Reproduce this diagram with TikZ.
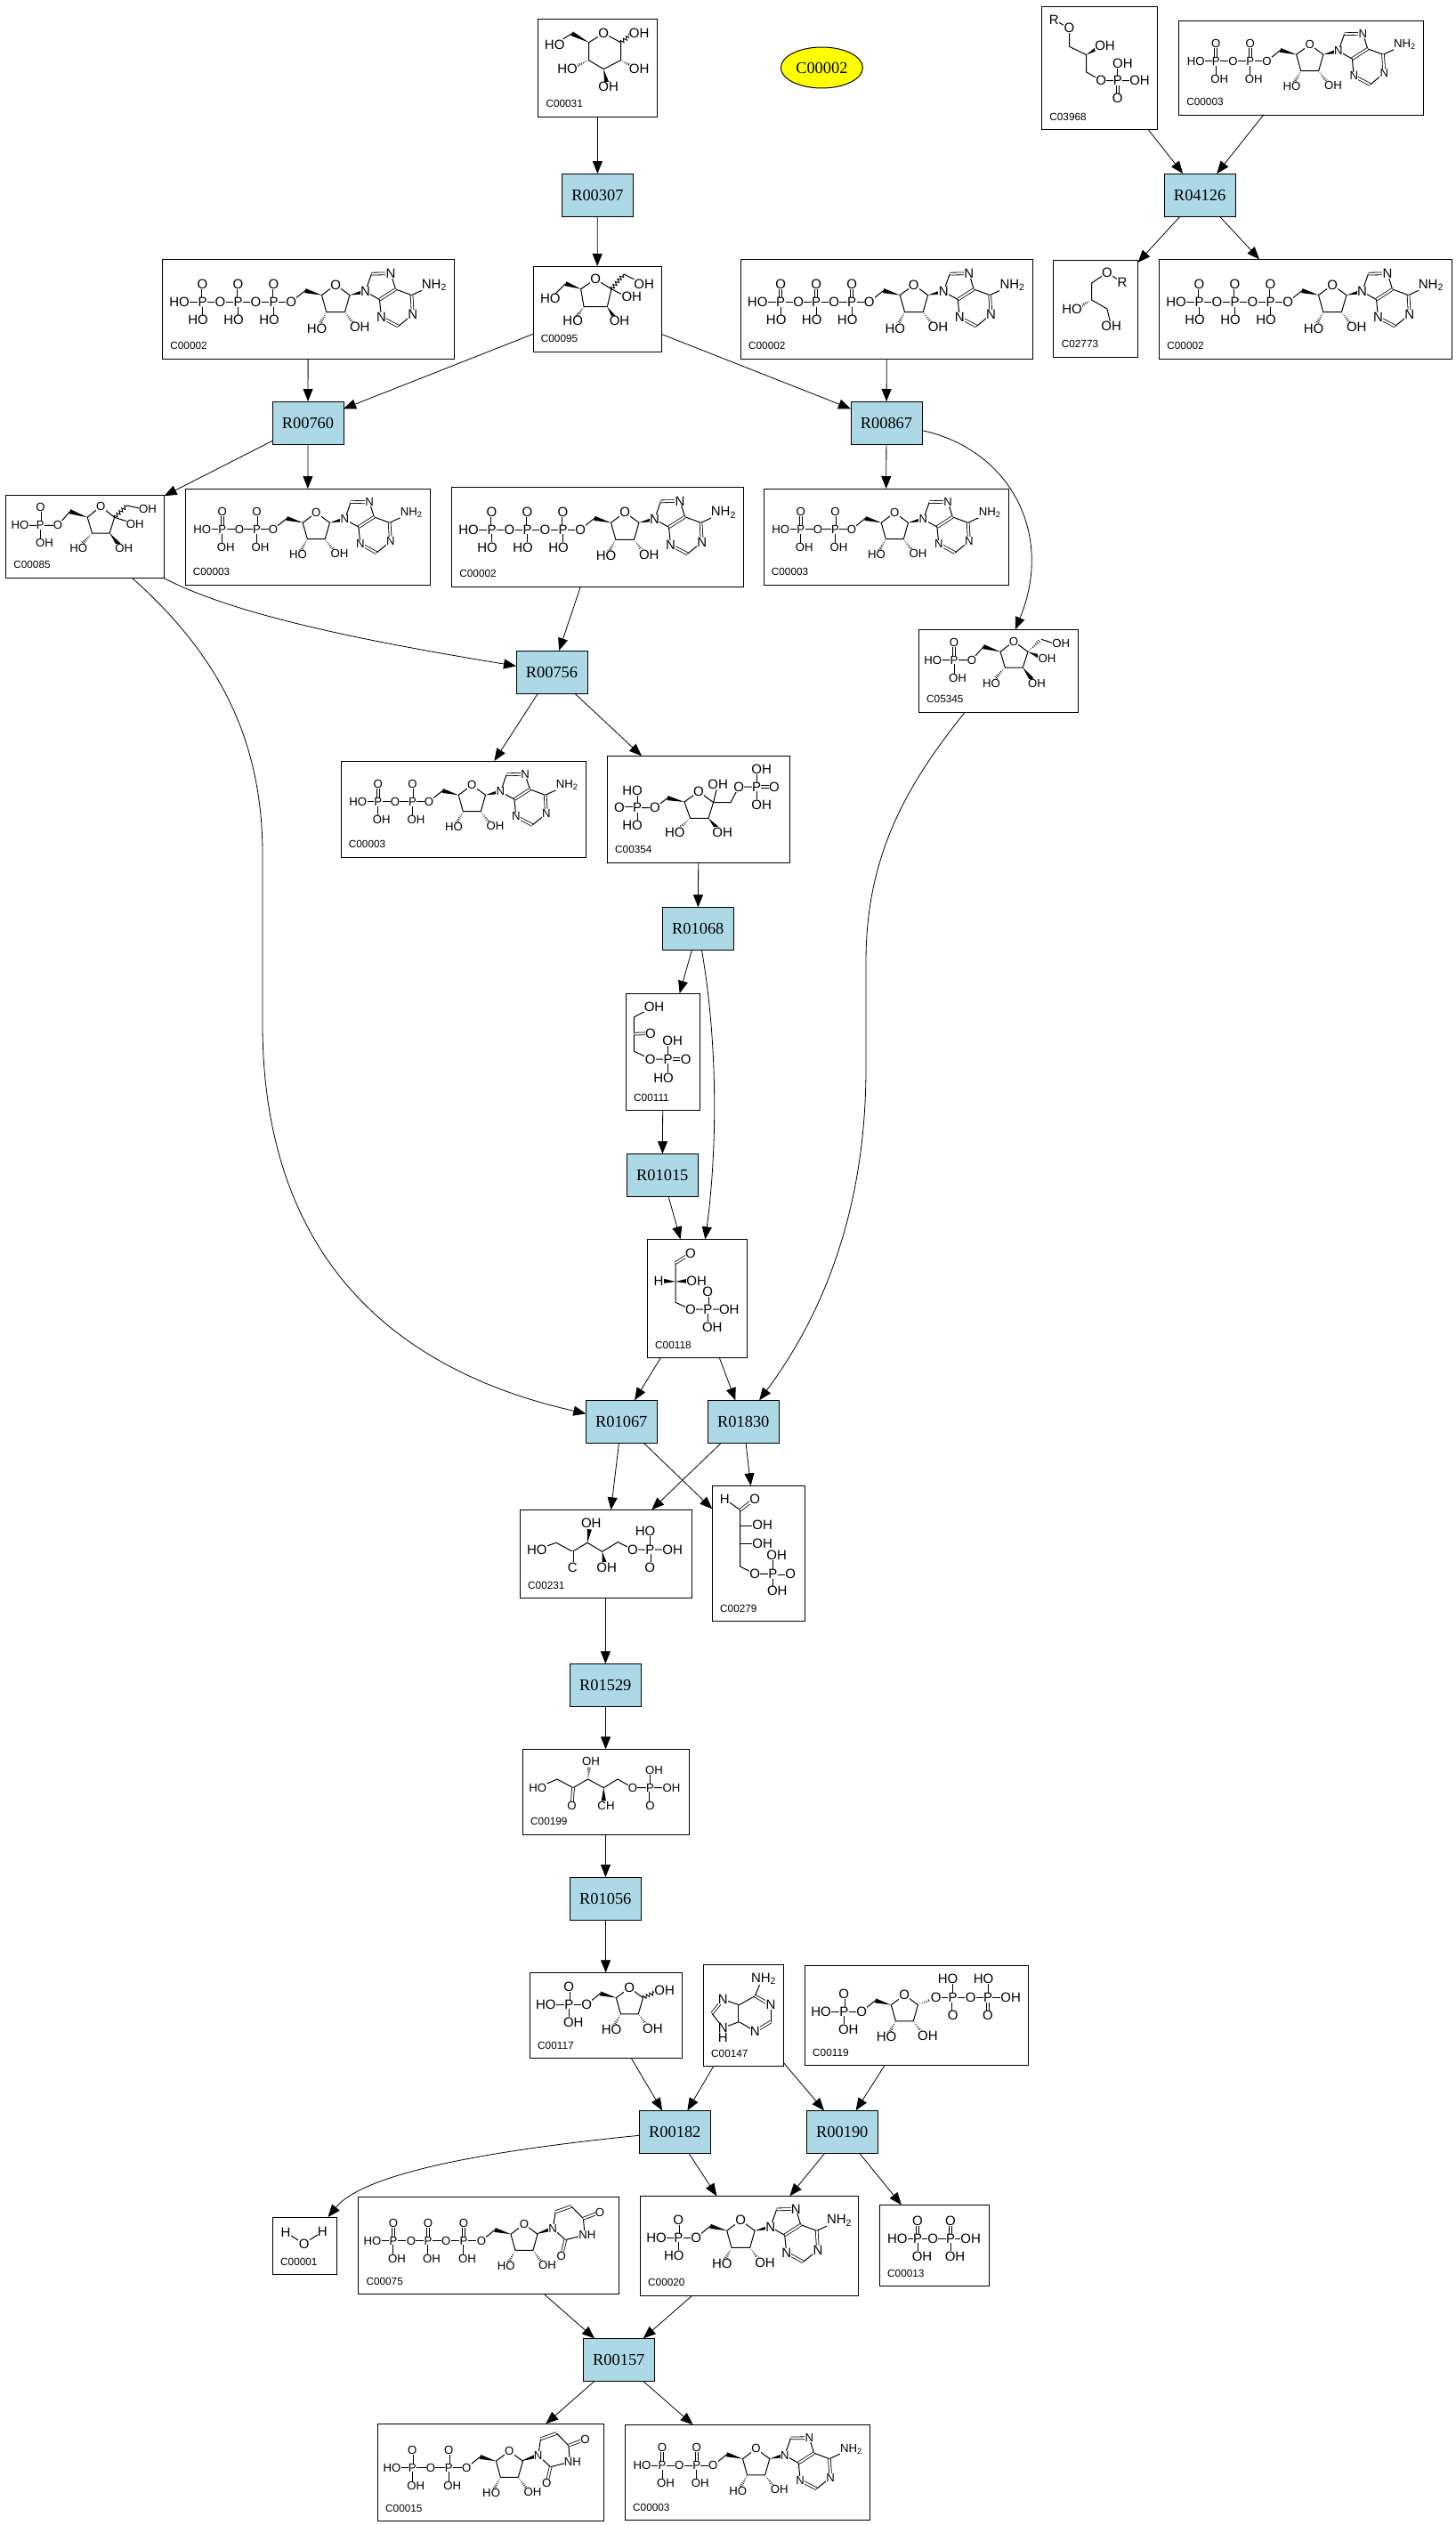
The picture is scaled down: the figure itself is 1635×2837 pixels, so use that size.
\documentclass[tikz,border=0pt]{standalone}
\usepackage{fontspec}
\setmainfont{Liberation Sans}
\newfontfamily\rxnfont{Liberation Serif}
\usetikzlibrary{arrows.meta,calc,shapes.geometric,decorations.pathmorphing}
\definecolor{rxnblue}{RGB}{173,216,230}
\definecolor{cpdyellow}{RGB}{255,255,0}
\newcounter{atomc}
\def\atomsz{7.5}
\tikzset{
 cpdbox/.style={draw=black,line width=.5pt,fill=white,inner sep=0pt,outer sep=0pt,rectangle},
 rxnbox/.style={draw=black,line width=.5pt,fill=rxnblue,inner sep=0pt,outer sep=0pt,rectangle,font=\rxnfont\fontsize{9.2}{10}\selectfont},
 cpdoval/.style={draw=black,line width=.5pt,fill=cpdyellow,inner sep=0pt,outer sep=0pt,ellipse,font=\rxnfont\fontsize{9.2}{10}\selectfont},
 cpdlabel/.style={anchor=west,inner sep=0pt,font=\fontsize{5.9}{7}\selectfont},
 atom/.style={inner sep=.15pt,fill=white,font=\fontsize{\atomsz}{8}\selectfont},
 bond/.style={line width=.5pt,black},
 dblbond/.style={double,double distance=1pt,line width=.4pt},
 wavybond/.style={line width=.45pt,decorate,decoration={zigzag,segment length=2pt,amplitude=1pt}},
 edge/.style={draw=black,line width=.4pt,-{Triangle[length=7pt,width=5.5pt]}}
}
\newcommand\atm[3]{\stepcounter{atomc}\node[atom] (atom\arabic{atomc}) at (#1,#2) {#3};}
\newcommand\dbl[2]{\draw[dblbond] (#1) -- (#2);}
\newcommand\wdg[2]{\fill[black] (#1) -- ($(#2)!1.3pt!90:(#1)$) -- ($(#2)!1.3pt!-90:(#1)$) -- cycle;}
\newcommand\hsh[2]{\foreach \t in {.12,.24,.36,.48,.6,.72,.84}{\draw[line width=.32pt] ($(#1)!\t!(#2)!\t*1.3pt!90:(#2)$) -- ($(#1)!\t!(#2)!\t*1.3pt!-90:(#2)$);}}
\newcommand\wav[2]{\draw[wavybond] (#1) -- (#2);}
% phosphorus with =O above and a single bond below
\newcommand\Pv[4]{\draw[dblbond] (#1,#2) -- (#1,#2-20);\draw[bond] (#1,#2) -- (#1,#2+18);
 \atm{#1}{#2-20}{O}\atm{#1+#4}{#2+20}{#3}\atm{#1}{#2}{P}}
% ribose, origin at the 5' oxygen
\newcommand\ribose{
 \draw[bond] (0,0) -- (15.8,-12.7);
 \wdg{34.4,-7.7}{15.8,-12.7}
 \draw[bond] (34.4,-7.7) -- (50,-19.3) -- (65.8,-7.7) -- (60.4,11.3) -- (39.7,11.3) -- cycle;
 \hsh{39.7,11.3}{31,27}
 \hsh{60.4,11.3}{72,27}
 \atm{0}{0}{O}\atm{50}{-19.3}{O}\atm{29}{29.7}{HO}\atm{77.2}{28}{OH}}
\newcommand\adeninepart{
 \wdg{65.8,-7.7}{83.4,-11.7}
 \draw[bond] (83.4,-11.7) -- (90.4,-31.7);
 \dbl{90.4,-31.7}{112,-32}
 \draw[bond] (112,-32) -- (117.4,-14.3) -- (135.4,-7.7) -- (159.4,-18.7);
 \dbl{117.4,-14.3}{99.4,-2.7}
 \draw[bond] (99.4,-2.7) -- (83.4,-11.7);
 \draw[bond] (99.4,-2.7) -- (101.4,17.3);
 \dbl{101.4,17.3}{120.4,27.3}
 \draw[bond] (120.4,27.3) -- (136.7,14);
 \dbl{136.7,14}{135.4,-7.7}
 \atm{83.4}{-11.7}{N}\atm{112}{-32}{N}\atm{101.4}{17.3}{N}\atm{136.7}{14}{N}
 \atm{161}{-19}{NH\textsubscript{2}}}
\newcommand\uracilpart{
 \wdg{63.3,-7.7}{83.7,-14.3}
 \draw[bond] (83.7,-14.3) -- (86.7,-33.7);
 \dbl{86.7,-33.7}{105.3,-40.3}
 \draw[bond] (105.3,-40.3) -- (119.3,-26) -- (121,-6.7) -- (98.3,-1) -- (83.7,-14.3);
 \dbl{119.3,-26}{138.7,-33.3}
 \dbl{98.3,-1}{93.7,18}
 \atm{83.7}{-14.3}{N}\atm{138.7}{-33.3}{O}\atm{124}{-6.7}{NH}\atm{93.7}{18}{O}}
\newcommand\ATPmol[2]{\begin{scope}[shift={(#1,#2)}]
 \draw[bond] (26,48) -- (144,48);
 \atm{19}{48}{HO}\Pv{45}{48}{HO}{-5}\atm{65}{48}{O}\Pv{85}{48}{HO}{-5}\atm{105}{48}{O}\Pv{125}{48}{HO}{-5}
 \begin{scope}[shift={(144.6,48)}]\ribose\adeninepart\end{scope}
 \end{scope}}
\newcommand\ADPmol[2]{\begin{scope}[shift={(#1,#2)}]\def\atomsz{6.6}
 \draw[bond] (26,45.7) -- (99,45.7);
 \atm{19.3}{45.7}{HO}\Pv{41.8}{45.7}{OH}{4}\atm{61}{45.7}{O}\Pv{80.4}{45.7}{OH}{4}
 \begin{scope}[shift={(99,45.7)},scale=.965]\ribose\adeninepart\end{scope}
 \end{scope}}
\begin{document}
\begin{tikzpicture}[x=.5pt,y=-.5pt]
\useasboundingbox (0,0) rectangle (1635,2837);
\fill[white] (0,0) rectangle (1635,2837);
\newcommand\cpdnode[6]{%
 \pgfmathsetmacro\bxw{(#4-#2)*.5}\pgfmathsetmacro\bxh{(#5-#3)*.5}%
 \node[cpdbox,minimum width=\bxw pt,minimum height=\bxh pt] (#1) at ({(#2+#4)/2},{(#3+#5)/2}) {};%
 \node[cpdlabel] (#1-label) at ({#2+8.5},{#5-14.3}) {#6};}
\newcommand\rxnnode[6]{%
 \pgfmathsetmacro\bxw{(#4-#2)*.5}\pgfmathsetmacro\bxh{(#5-#3)*.5}%
 \node[rxnbox,minimum width=\bxw pt,minimum height=\bxh pt] (#1) at ({(#2+#4)/2},{(#3+#5)/2}) {#6};}
% compounds
\cpdnode{c31}{604.6}{21.7}{738.3}{131}{C00031}
\node[cpdoval,minimum width=46pt,minimum height=23pt] (oval) at (923.4,76) {C00002};
\cpdnode{c3968}{1170.5}{7.3}{1300.4}{145.3}{C03968}
\cpdnode{c3a}{1324.4}{23}{1599.4}{129}{C00003}
\cpdnode{c2c}{1302.5}{291.3}{1631}{403}{C00002}
\cpdnode{c2773}{1183.9}{292}{1278.5}{401}{C02773}
\cpdnode{c95}{599}{299}{743}{395}{C00095}
\cpdnode{c2b}{832.2}{291.3}{1160.6}{403}{C00002}
\cpdnode{c2a}{182.5}{291.3}{510}{403}{C00002}
\cpdnode{c85}{6.4}{556}{184.6}{649}{C00085}
\cpdnode{c3e}{208}{549}{483.6}{657}{C00003}
\cpdnode{c2d}{507.5}{547}{835}{659}{C00002}
\cpdnode{c3b}{858}{549}{1133}{657}{C00003}
\cpdnode{c5345}{1032.3}{707.3}{1211}{800}{C05345}
\cpdnode{c3c}{383}{855}{658}{963}{C00003}
\cpdnode{c354}{682.3}{849.3}{887.7}{969}{C00354}
\cpdnode{c111}{703.3}{1116}{786.7}{1247.3}{C00111}
\cpdnode{c118}{727.3}{1392.3}{839.3}{1525.3}{C00118}
\cpdnode{c231}{584.3}{1696.3}{777}{1795.3}{C00231}
\cpdnode{c279}{800.3}{1669.3}{904.3}{1821.3}{C00279}
\cpdnode{c199}{587.3}{1965.3}{774.3}{2061}{C00199}
\cpdnode{c117}{595.3}{2216.3}{766.3}{2312.3}{C00117}
\cpdnode{c147}{790.3}{2207.3}{880.3}{2321.3}{C00147}
\cpdnode{c119}{904.3}{2208.3}{1155.7}{2320.3}{C00119}
\cpdnode{c1}{306.3}{2491}{378.6}{2555.3}{C00001}
\cpdnode{c75}{402.6}{2468.3}{695.6}{2577.3}{C00075}
\cpdnode{c20}{719.3}{2467.3}{964.3}{2579}{C00020}
\cpdnode{c13}{988.3}{2477.3}{1111.3}{2568.3}{C00013}
\cpdnode{c15}{424.3}{2723.3}{678.3}{2832.3}{C00015}
\cpdnode{c3d}{702.3}{2724.3}{977}{2831.3}{C00003}
% reactions
\rxnnode{r307}{631.3}{195}{711.5}{243}{R00307}
\rxnnode{r4126}{1308}{195}{1388.2}{243}{R04126}
\rxnnode{r760}{306}{451}{386}{499}{R00760}
\rxnnode{r867}{956}{451}{1036}{499}{R00867}
\rxnnode{r756}{580}{731}{660}{779}{R00756}
\rxnnode{r1068}{744.3}{1019.3}{824.3}{1067.3}{R01068}
\rxnnode{r1015}{704.3}{1296.3}{784.3}{1344.3}{R01015}
\rxnnode{r1067}{658.3}{1573.3}{738.3}{1621.3}{R01067}
\rxnnode{r1830}{795.3}{1573.3}{875.3}{1621.3}{R01830}
\rxnnode{r1529}{640.3}{1869.3}{720.3}{1917.3}{R01529}
\rxnnode{r1056}{640.3}{2109}{720.3}{2157}{R01056}
\rxnnode{r182}{718.3}{2371.3}{798.3}{2419.3}{R00182}
\rxnnode{r190}{906.3}{2371.3}{986.3}{2419.3}{R00190}
\rxnnode{r157}{655.3}{2627.3}{735.3}{2675.3}{R00157}
% nucleotides
\ATPmol{182.5}{291.3}\ATPmol{832.2}{291.3}\ATPmol{1302.5}{291.3}\ATPmol{507.5}{547}
\ADPmol{1324.4}{23}\ADPmol{208}{549}\ADPmol{858}{549}\ADPmol{383}{855}\ADPmol{702.3}{2724.3}
% AMP C00020
\begin{scope}[shift={(719.3,2467.3)}]
 \draw[bond] (25,46.7) -- (63,46.7);
 \atm{18.3}{46.7}{HO}\Pv{43}{46.7}{HO}{-5}
 \begin{scope}[shift={(63,46.7)}]\ribose\adeninepart\end{scope}
\end{scope}
% UTP C00075
\begin{scope}[shift={(402.6,2468.3)}]\def\atomsz{6.6}
 \draw[bond] (23,49.3) -- (138,49.3);
 \atm{16}{49.3}{HO}\Pv{39.3}{49.3}{OH}{4}\atm{59.3}{49.3}{O}\Pv{78.3}{49.3}{OH}{4}\atm{98.7}{49.3}{O}\Pv{118.3}{49.3}{OH}{4}
 \begin{scope}[shift={(138.3,49.3)},scale=.96]\ribose\uracilpart\end{scope}
\end{scope}
% UDP C00015
\begin{scope}[shift={(424.3,2723.3)}]\def\atomsz{6.6}
 \draw[bond] (23,49.3) -- (100,49.3);
 \atm{16.3}{49.3}{HO}\Pv{39}{49.3}{OH}{4}\atm{59.7}{49.3}{O}\Pv{80}{49.3}{OH}{4}
 \begin{scope}[shift={(100,49.3)},scale=.96]\ribose\uracilpart\end{scope}
\end{scope}
% C00117
\begin{scope}[shift={(595.3,2216.3)}]
 \draw[bond] (25,35.7) -- (64,35.7);
 \atm{18}{35.7}{HO}\Pv{44}{35.7}{OH}{5}
 \begin{scope}[shift={(64,35.7)},scale=.96]
  \ribose
  \wav{65.8,-7.7}{80,-14}\atm{91}{-16.5}{OH}
 \end{scope}
\end{scope}
% C00119
\begin{scope}[shift={(904.3,2208.3)}]
 \draw[bond] (25,51.7) -- (64,51.7);
 \atm{18.3}{51.7}{HO}\Pv{44}{51.7}{OH}{5}
 \begin{scope}[shift={(64,51.7)},scale=.96]\ribose\end{scope}
 \hsh{127,44.3}{147.3,36}
 \draw[bond] (147.3,36) -- (231,36);
 \draw[bond] (166.3,36) -- (166.3,17);
 \draw[bond] (205.7,36) -- (205.7,17);
 \dbl{166.3,36}{166.3,56}
 \dbl{205.7,36}{205.7,56}
 \atm{147.3}{36}{O}\atm{166.3}{36}{P}\atm{160.7}{15}{HO}\atm{166.3}{56}{O}
 \atm{186.3}{36}{O}\atm{205.7}{36}{P}\atm{200.7}{15}{HO}\atm{205.7}{56}{O}\atm{231.3}{36}{OH}
\end{scope}
% C00147 adenine
\begin{scope}[shift={(790.3,2207.3)}]
 \draw[bond] (66,16) -- (58,35.3);
 \dbl{58,35.3}{75.7,45.3}
 \draw[bond] (75.7,45.3) -- (75.7,64.3);
 \dbl{75.7,64.3}{58,75}
 \draw[bond] (58,75) -- (40.3,64.3);
 \dbl{40.3,64.3}{40.3,45.3}
 \draw[bond] (40.3,45.3) -- (58,35.3);
 \draw[bond] (40.3,45.3) -- (22,39.3);
 \dbl{22,39.3}{9.7,55}
 \draw[bond] (9.7,55) -- (22,71) -- (40.3,64.3);
 \atm{68}{16}{NH\textsubscript{2}}\atm{75.7}{45.3}{N}\atm{58}{75}{N}\atm{22}{39.3}{N}\atm{22}{71}{N}\atm{22}{82}{H}
\end{scope}
% C00013
\begin{scope}[shift={(988.3,2477.3)}]
 \draw[bond] (27,37.7) -- (95,37.7);
 \atm{20}{37.7}{HO}\Pv{42.7}{37.7}{OH}{5}\atm{60}{37.7}{O}\Pv{79.7}{37.7}{OH}{5}\atm{102.3}{37.7}{OH}
\end{scope}
% C00001
\begin{scope}[shift={(306.3,2491)}]
 \draw[bond] (14.7,17.3) -- (35.3,30) -- (56,16.3);
 \atm{14.7}{17.3}{H}\atm{35.3}{30}{O}\atm{56}{16.3}{H}
\end{scope}
% C00031
\begin{scope}[shift={(604.6,21.7)}]
 \draw[bond] (18.6,28.3) -- (37.9,16);
 \wdg{57,26}{37.9,16}
 \draw[bond] (57,26) -- (73.6,15.7) -- (92.9,26) -- (92.9,46) -- (73.6,56) -- (57,46) -- cycle;
 \wav{92.9,26}{106,16}
 \hsh{92.9,46}{108,54}
 \wdg{73.6,56}{77,71}
 \hsh{57,46}{40,54}
 \atm{18.6}{28.3}{HO}\atm{73.6}{15.7}{O}\atm{113.6}{15.7}{OH}\atm{113.6}{55.7}{OH}\atm{79}{75.7}{OH}\atm{33}{55.7}{HO}
\end{scope}
% C00095
\begin{scope}[shift={(599,299)}]
 \draw[bond] (19.3,36.7) -- (36.5,19.7);
 \wdg{53.7,25.7}{36.5,19.7}
 \draw[bond] (53.7,25.7) -- (70.2,14.7) -- (88,25.7) -- (83.3,45.7) -- (57,45.7) -- cycle;
 \hsh{57,45.7}{48,58}
 \wdg{83.3,45.7}{92,59}
 \draw[bond] (88,25.7) -- (104,34);
 \wav{88,25.7}{102,9}
 \draw[bond] (102,9) -- (124.6,20.7);
 \atm{19.3}{36.7}{HO}\atm{70.2}{14.7}{O}\atm{124.6}{20.7}{OH}\atm{110.8}{34}{OH}\atm{44.7}{61.7}{HO}\atm{97}{61.7}{OH}
\end{scope}
% C00085
\begin{scope}[shift={(6.4,556)}]\def\atomsz{6.6}
 \draw[bond] (22,34.3) -- (58.6,34.3) -- (72.1,18.7);
 \Pv{39}{34.3}{OH}{4.6}
 \wdg{91.8,25.3}{72.1,18.7}
 \draw[bond] (91.8,25.3) -- (106.8,13) -- (122.2,25.3) -- (116.8,43) -- (97.1,43) -- cycle;
 \hsh{97.1,43}{85,56}
 \wdg{116.8,43}{127,56}
 \draw[bond] (122.2,25.3) -- (140,31);
 \wav{122.2,25.3}{136.4,12}
 \draw[bond] (136.4,12) -- (150,15);
 \atm{16}{34.3}{HO}\atm{58.6}{34.3}{O}\atm{106.8}{13}{O}\atm{81.8}{60.3}{HO}\atm{132.8}{60.3}{OH}\atm{145.3}{32.7}{OH}\atm{159.6}{16}{OH}
\end{scope}
% C05345
\begin{scope}[shift={(1032.3,707.3)}]\def\atomsz{6.6}
 \draw[bond] (22,34.3) -- (59.7,34.3) -- (72.7,19.3);
 \Pv{39.7}{34.3}{OH}{4}
 \wdg{91.7,25}{72.7,19.3}
 \draw[bond] (91.7,25) -- (106.7,13.3) -- (122.7,25) -- (117,42.7) -- (97,42.7) -- cycle;
 \hsh{97,42.7}{85,56}
 \wdg{117,42.7}{127,56}
 \wdg{122.7,25}{137,31}
 \hsh{122.7,25}{137.7,11}
 \draw[bond] (137.7,11) -- (150,15);
 \atm{16}{34.3}{HO}\atm{59.7}{34.3}{O}\atm{106.7}{13.3}{O}\atm{81.7}{60.3}{HO}\atm{132.7}{60.3}{OH}\atm{144.3}{32.7}{OH}\atm{160}{16}{OH}
\end{scope}
% C00354
\begin{scope}[shift={(682.3,849.3)}]
 \draw[bond] (33.7,39) -- (33.7,78);
 \dbl{13.7,58.3}{33.7,58.3}
 \draw[bond] (33.7,58.3) -- (53.7,58.3) -- (67.7,47.3);
 \wdg{86.7,51.7}{67.7,47.3}
 \draw[bond] (86.7,51.7) -- (102.7,40) -- (119.3,52.3) -- (113.7,70) -- (93.3,70) -- cycle;
 \hsh{93.3,70}{79,83}
 \wdg{113.7,70}{124,82}
 \draw[bond] (119.3,52.3) -- (124.3,31.7);
 \draw[bond] (119.3,52.3) -- (138.7,52.3) -- (148,34.7) -- (167.7,34.7);
 \draw[bond] (167.7,14.7) -- (167.7,54.7);
 \dbl{167.7,34.7}{187.7,34.7}
 \atm{13.7}{58.3}{O}\atm{33.7}{58.3}{P}\atm{28.3}{39}{HO}\atm{28.3}{78}{HO}\atm{53.7}{58.3}{O}
 \atm{102.7}{40}{O}\atm{76}{85.7}{HO}\atm{129.3}{85.7}{OH}\atm{124.3}{31.7}{OH}
 \atm{148}{34.7}{O}\atm{167.7}{34.7}{P}\atm{173.3}{14.7}{OH}\atm{173.3}{54.7}{OH}\atm{187.7}{34.7}{O}
\end{scope}
% C00111
\begin{scope}[shift={(703.3,1116)}]
 \draw[bond] (31.7,15) -- (9,26.7) -- (9,65) -- (27.3,74) -- (47.3,74);
 \dbl{9,45.7}{27.7,45}
 \draw[bond] (47.3,53) -- (47.3,95);
 \dbl{47.3,74}{67.3,74}
 \atm{31.7}{15}{OH}\atm{27.7}{45}{O}\atm{27.3}{74}{O}\atm{47.3}{74}{P}\atm{52.3}{53}{OH}\atm{67.3}{74}{O}\atm{42.3}{95}{HO}
\end{scope}
% C00118
\begin{scope}[shift={(727.3,1392.3)}]
 \dbl{48.7,16}{31.7,26.7}
 \draw[bond] (31.7,26.7) -- (31.7,71) -- (48.7,78.7) -- (92,78.7);
 \wdg{31.7,47.7}{18,47}
 \wdg{31.7,47.7}{45,47}
 \dbl{68,78.7}{68,59.3}
 \draw[bond] (68,78.7) -- (68,98);
 \atm{48.7}{16}{O}\atm{12.7}{46.7}{H}\atm{55.3}{46.7}{OH}\atm{48.7}{78.7}{O}\atm{68}{78.7}{P}\atm{68}{59.3}{O}\atm{92}{78.7}{OH}\atm{73}{98.7}{OH}
\end{scope}
% C00231
\begin{scope}[shift={(584.3,1696.3)}]
 \draw[bond] (19,44.7) -- (40.7,37) -- (59,47) -- (75.7,37) -- (92.3,47) -- (110,36.3) -- (126.7,44.7) -- (171,44.7);
 \dbl{59,47}{59,64.7}
 \wdg{75.7,37}{78,22}
 \wdg{92.3,47}{95,60}
 \draw[bond] (146,24) -- (146,44.7);
 \dbl{146,44.7}{146,64.7}
 \atm{19}{44.7}{HO}\atm{59}{64.7}{C}\atm{80}{14.7}{OH}\atm{97.3}{64.7}{OH}\atm{126.7}{44.7}{O}\atm{146}{44.7}{P}\atm{140.7}{23.7}{HO}\atm{171.3}{44.7}{OH}\atm{146}{64.7}{O}
\end{scope}
% C00279
\begin{scope}[shift={(800.3,1669.3)}]
 \draw[bond] (14,14.7) -- (31.3,27.3);
 \dbl{31.3,27.3}{48,14.7}
 \draw[bond] (31.3,27.3) -- (31.3,90.7) -- (48,99) -- (68,99);
 \draw[bond] (31.3,44.7) -- (48,44.7);
 \draw[bond] (31.3,64.7) -- (48,64.7);
 \draw[bond] (68,78) -- (68,118);
 \dbl{68,99}{88,99}
 \atm{14}{14.7}{H}\atm{48}{14.7}{O}\atm{56.3}{44}{OH}\atm{56.3}{64.7}{OH}\atm{48}{99}{O}\atm{68}{99}{P}\atm{72.3}{78.3}{OH}\atm{88}{99}{O}\atm{73}{118}{OH}
\end{scope}
% C00199
\begin{scope}[shift={(587.3,1965.3)}]\def\atomsz{6.6}
 \draw[bond] (17,43.3) -- (38.7,33.7) -- (56.7,43.3) -- (73.3,33.7) -- (91,43.3) -- (106.7,33.7) -- (123.7,43.3) -- (167,43.3);
 \dbl{56.7,43.3}{55.3,63.3}
 \hsh{73.3,33.7}{75,19}
 \wdg{91,43.3}{91,58}
 \draw[bond] (143.3,23.3) -- (143.3,43.3);
 \dbl{143.3,43.3}{143.3,63.3}
 \atm{17}{43.3}{HO}\atm{55.3}{63.3}{O}\atm{76.7}{13.3}{OH}\atm{93.7}{63.3}{CH}\atm{123.7}{43.3}{O}\atm{143.3}{43.3}{P}\atm{147.7}{23.3}{OH}\atm{167.3}{43.3}{OH}\atm{143.3}{63.3}{O}
\end{scope}
% C02773
\begin{scope}[shift={(1183.9,292)}]
 \draw[bond] (77,25.3) -- (60,14.3) -- (42.7,26) -- (42.7,45) -- (60,55) -- (64.7,74.3);
 \hsh{42.7,45}{28,53}
 \atm{60}{14.3}{O}\atm{77}{25.3}{R}\atm{20.6}{55}{HO}\atm{64.7}{74.3}{OH}
\end{scope}
% C03968
\begin{scope}[shift={(1170.5,7.3)}]
 \draw[bond] (13.8,15) -- (31,24.3) -- (31,45) -- (50.2,54.3) -- (50.2,73.7) -- (66.8,83.3) -- (110,83.3);
 \wdg{50.2,54.3}{64,46}
 \draw[bond] (85.3,64.3) -- (85.3,83.3);
 \dbl{85.3,83.3}{85.3,103.3}
 \atm{13.8}{15}{R}\atm{31}{24.3}{O}\atm{71}{44.3}{OH}\atm{66.8}{83.3}{O}\atm{85.3}{83.3}{P}\atm{90.9}{64.3}{OH}\atm{110}{83.3}{OH}\atm{85.3}{103.3}{O}
\end{scope}
% connectors
\foreach \a/\b in {c31/r307,r307/c95,c3968/r4126,c3a/r4126,r4126/c2773,r4126/c2c,
 c2a/r760,c95/r760,r760/c85,r760/c3e,c2b/r867,c95/r867,r867/c3b,
 c2d/r756,r756/c3c,r756/c354,c354/r1068,r1068/c111,c111/r1015,r1015/c118,
 c118/r1067,c118/r1830,r1067/c231,r1067/c279,r1830/c231,r1830/c279,
 c231/r1529,r1529/c199,c199/r1056,r1056/c117,
 c117/r182,c147/r182,c147/r190,c119/r190,r182/c20,r190/c20,r190/c13,
 c75/r157,c20/r157,r157/c15,r157/c3d}{\draw[edge] (\a) -- (\b);}
\coordinate (wa) at (295,960);
\coordinate (wb) at (295,1150);
\coordinate (wc) at (973,1080);
\coordinate (wd) at (973,1200);
\draw[edge] (r867) .. controls (1135,505) and (1185,600) .. (c5345);
\draw[edge] (c85) .. controls (270,695) and (440,725) .. (r756);
\draw[edge] (c85) .. controls (245,735) and (295,830) .. (wa) -- (wb) .. controls (295,1370) and (400,1530) .. (r1067);
\draw[edge] (r1068) .. controls (808,1180) and (805,1300) .. (c118);
\draw[edge] (c5345) .. controls (1020,880) and (973,960) .. (wc) -- (wd) .. controls (973,1350) and (930,1470) .. (r1830);
\draw[edge] (r182) .. controls (560,2415) and (410,2440) .. (c1);
\end{tikzpicture}
\end{document}
